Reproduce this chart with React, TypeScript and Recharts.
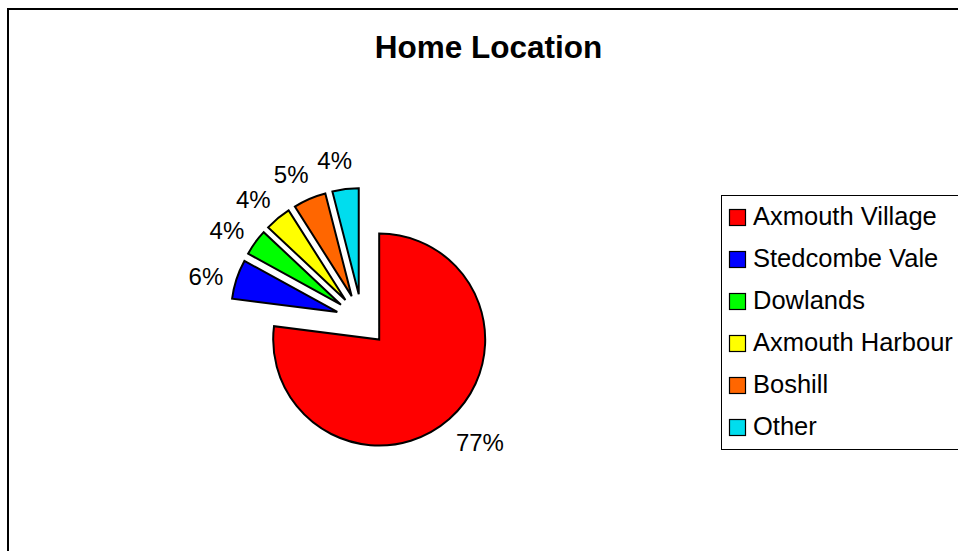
import React from 'react';
import { PieChart, Pie, Cell, Legend } from 'recharts';

const categories = ['Axmouth Village', 'Stedcombe Vale', 'Dowlands', 'Axmouth Harbour', 'Boshill', 'Other'];
const values = [77, 6, 4, 4, 5, 4];
const colors = ['#FF0000', '#0000FF', '#00FF00', '#FFFF00', '#FF6600', '#00DDEE'];

const data = categories.map((name, i) => ({ name, value: values[i] }));
const total = values.reduce((a, b) => a + b, 0);

const CX = 362;
const CY = 320;
const R = 106;
const EXPLODE = 26;
const RAD = Math.PI / 180;
const FONT = '"Liberation Sans", Arial, sans-serif';

function sliceMid(k: number): number {
  let before = 0;
  for (let i = 0; i < k; i++) before += values[i];
  return 90 - (360 * (before + values[k] / 2)) / total;
}

function makeLabel(k: number) {
  return (props: any) => {
    if (props.index !== k) return null;
    const { cx, cy, midAngle, outerRadius, percent } = props;
    const text = `${Math.round(percent * 100)}%`;
    const dist = outerRadius + 30 + (text.length - 2) * 8;
    const a = (midAngle + 3) * RAD;
    const x = cx + dist * Math.cos(a);
    const y = cy - dist * Math.sin(a);
    return (
      <text x={x} y={y} dy="0.36em" textAnchor="middle" fontSize={24} fontFamily={FONT} fill="#000">
        {text}
      </text>
    );
  };
}

const LegendBox = () => (
  <svg width={240} height={256} style={{ display: 'block', overflow: 'visible' }}>
    <rect x={0.5} y={0.5} width={260} height={254} fill="#fff" stroke="#000" strokeWidth={1} />
    {categories.map((c, i) => (
      <g key={c}>
        <rect x={8.5} y={14.5 + 42 * i} width={16} height={16} fill={colors[i]} stroke="#000" strokeWidth={1.2} />
        <text x={32} y={29.5 + 42 * i} fontSize={25.5} fontFamily={FONT} fill="#000">
          {c}
        </text>
      </g>
    ))}
  </svg>
);

export default function App() {
  return (
    <div
      style={{
        position: 'absolute',
        left: 0,
        top: 0,
        width: 958,
        height: 551,
        overflow: 'hidden',
        background: '#fff',
        fontFamily: FONT,
      }}
    >
      <div
        style={{
          position: 'absolute',
          left: 7,
          top: 8,
          width: 1100,
          height: 800,
          borderLeft: '2px solid #000',
          borderTop: '2px solid #000',
        }}
      />
      <div
        style={{
          position: 'absolute',
          left: 488.5,
          top: 28.5,
          transform: 'translateX(-50%)',
          fontSize: 31.5,
          fontWeight: 'bold',
          whiteSpace: 'nowrap',
          color: '#000',
        }}
      >
        Home Location
      </div>
      <div style={{ position: 'absolute', left: 0, top: 0 }}>
        <PieChart width={958} height={551} margin={{ top: 0, right: 0, bottom: 0, left: 0 }}>
          {values.map((_, k) => {
            const mid = sliceMid(k);
            const cx = CX + EXPLODE * Math.cos(mid * RAD);
            const cy = CY - EXPLODE * Math.sin(mid * RAD);
            return (
              <Pie
                key={k}
                data={data}
                dataKey="value"
                nameKey="name"
                cx={cx}
                cy={cy}
                outerRadius={R}
                innerRadius={0}
                startAngle={90}
                endAngle={-270}
                isAnimationActive={false}
                label={makeLabel(k)}
                labelLine={false}
                legendType="none"
              >
                {data.map((d, i) => (
                  <Cell
                    key={d.name}
                    fill={i === k ? colors[i] : 'none'}
                    stroke={i === k ? '#000' : 'none'}
                    strokeWidth={i === k ? 2 : 0}
                  />
                ))}
              </Pie>
            );
          })}
          <Legend
            layout="vertical"
            align="right"
            verticalAlign="middle"
            content={() => <LegendBox />}
            wrapperStyle={{ left: 721, top: 195, right: 'auto', bottom: 'auto', width: 240, height: 256 }}
          />
        </PieChart>
      </div>
    </div>
  );
}
